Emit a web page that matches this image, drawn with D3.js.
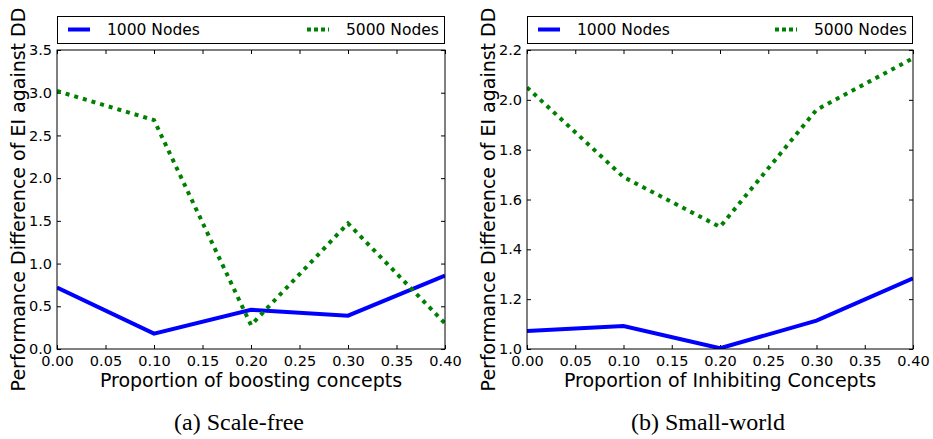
<!DOCTYPE html>
<html>
<head>
<meta charset="utf-8">
<script src="https://cdn.jsdelivr.net/npm/d3@7"></script>
<style>
  body { margin: 0; background: #fff; }
  svg text { font-family: "DejaVu Sans", Verdana, sans-serif; fill: #000; }
  svg text.caption { font-family: "Liberation Serif", "DejaVu Serif", serif; }
</style>
</head>
<body>
<div id="chart"></div>
<script>
// shared x categories
const proportions = [0.00, 0.10, 0.20, 0.30, 0.40];
const xTicks = [0.00, 0.05, 0.10, 0.15, 0.20, 0.25, 0.30, 0.35, 0.40];

// (a) scale-free
const scaleFree1000 = [0.72, 0.18, 0.46, 0.39, 0.86];
const scaleFree5000 = [3.02, 2.68, 0.28, 1.47, 0.30];
const scaleFreeYTicks = [0.0, 0.5, 1.0, 1.5, 2.0, 2.5, 3.0, 3.5];

// (b) small-world
const smallWorld1000 = [1.072, 1.092, 1.003, 1.114, 1.284];
const smallWorld5000 = [2.05, 1.69, 1.49, 1.96, 2.167];
const smallWorldYTicks = [1.0, 1.2, 1.4, 1.6, 1.8, 2.0, 2.2];

const seriesNames = ["1000 Nodes", "5000 Nodes"];

const width = 933, height = 439;

const svg = d3.select("#chart").append("svg")
    .attr("width", width)
    .attr("height", height);

const panels = [
    {left: 57, right: 445, yTicks: scaleFreeYTicks, yFmt: d3.format(".1f"),
     s1: scaleFree1000, s2: scaleFree5000,
     xLabel: "Proportion of boosting concepts", caption: "(a) Scale-free", yLabelX: 25},
    {left: 527, right: 913, yTicks: smallWorldYTicks, yFmt: d3.format(".1f"),
     s1: smallWorld1000, s2: smallWorld5000,
     xLabel: "Proportion of Inhibiting Concepts", caption: "(b) Small-world", yLabelX: 495}
];

const plotTop = 50, plotBottom = 349;

panels.forEach(function(p) {
    let g = svg.append("g");

    let x = d3.scaleLinear()
        .domain([0, 0.4])
        .range([p.left, p.right]);

    let y = d3.scaleLinear()
        .domain(d3.extent(p.yTicks))
        .range([plotBottom, plotTop]);

    // inward ticks on all four sides
    g.append("g")
        .attr("transform", `translate(0, ${plotBottom})`)
        .call(d3.axisBottom(x).tickValues(xTicks).tickFormat(d3.format(".2f")).tickSizeInner(-4).tickSizeOuter(0).tickPadding(7))
        .call(a => a.select(".domain").remove())
        .selectAll("text").attr("font-size", 14.5);

    g.append("g")
        .attr("transform", `translate(0, ${plotTop})`)
        .call(d3.axisTop(x).tickValues(xTicks).tickFormat("").tickSizeInner(-4).tickSizeOuter(0))
        .call(a => a.select(".domain").remove());

    g.append("g")
        .attr("transform", `translate(${p.left}, 0)`)
        .call(d3.axisLeft(y).tickValues(p.yTicks).tickFormat(p.yFmt).tickSizeInner(-4).tickSizeOuter(0).tickPadding(5))
        .call(a => a.select(".domain").remove())
        .selectAll("text").attr("font-size", 14.5);

    g.append("g")
        .attr("transform", `translate(${p.right}, 0)`)
        .call(d3.axisRight(y).tickValues(p.yTicks).tickFormat("").tickSizeInner(-4).tickSizeOuter(0))
        .call(a => a.select(".domain").remove());

    g.selectAll(".tick line").attr("stroke", "#000");
    g.selectAll("g").attr("font-family", null);

    // data lines
    let line = d3.line()
        .x((d, i) => x(proportions[i]))
        .y(d => y(d));

    let clipId = "clip" + p.left;
    g.append("clipPath").attr("id", clipId)
        .append("rect")
        .attr("x", p.left).attr("y", plotTop)
        .attr("width", p.right - p.left).attr("height", plotBottom - plotTop);

    let lines = g.append("g").attr("clip-path", `url(#${clipId})`);

    lines.append("path")
        .datum(p.s1)
        .attr("d", line)
        .attr("fill", "none")
        .attr("stroke", "#0000ff")
        .attr("stroke-width", 4);

    lines.append("path")
        .datum(p.s2)
        .attr("d", line)
        .attr("fill", "none")
        .attr("stroke", "#008000")
        .attr("stroke-width", 4)
        .attr("stroke-dasharray", "4,5");

    // frame
    g.append("rect")
        .attr("x", p.left).attr("y", plotTop)
        .attr("width", p.right - p.left).attr("height", plotBottom - plotTop)
        .attr("fill", "none")
        .attr("stroke", "#000")
        .attr("stroke-width", 1);

    // legend
    let leg = g.append("g");
    leg.append("rect")
        .attr("x", p.left + 0.5).attr("y", 16.5)
        .attr("width", p.right - p.left - 1).attr("height", 27)
        .attr("fill", "#fff")
        .attr("stroke", "#000");

    leg.append("line")
        .attr("x1", p.left + 11).attr("x2", p.left + 33)
        .attr("y1", 29.5).attr("y2", 29.5)
        .attr("stroke", "#0000ff").attr("stroke-width", 4);
    leg.append("text")
        .attr("x", p.left + 50).attr("y", 35)
        .attr("font-size", 15.5)
        .text(seriesNames[0]);

    leg.append("line")
        .attr("x1", p.right - 138).attr("x2", p.right - 116)
        .attr("y1", 29.5).attr("y2", 29.5)
        .attr("stroke", "#008000").attr("stroke-width", 4)
        .attr("stroke-dasharray", "4,3");
    leg.append("text")
        .attr("x", p.right - 99).attr("y", 35)
        .attr("font-size", 15.5)
        .text(seriesNames[1]);

    // axis labels
    g.append("text")
        .attr("x", (p.left + p.right) / 2)
        .attr("y", 387)
        .attr("text-anchor", "middle")
        .attr("font-size", 19)
        .text(p.xLabel);

    g.append("text")
        .attr("transform", `translate(${p.yLabelX}, ${(plotTop + plotBottom) / 2 + 0}) rotate(-90)`)
        .attr("text-anchor", "middle")
        .attr("font-size", 19)
        .text("Performance Difference of EI against DD");

    g.append("text")
        .attr("class", "caption")
        .attr("x", (p.left + p.right) / 2 - 12)
        .attr("y", 430)
        .attr("text-anchor", "middle")
        .attr("font-size", 24)
        .text(p.caption);
});
</script>
</body>
</html>
